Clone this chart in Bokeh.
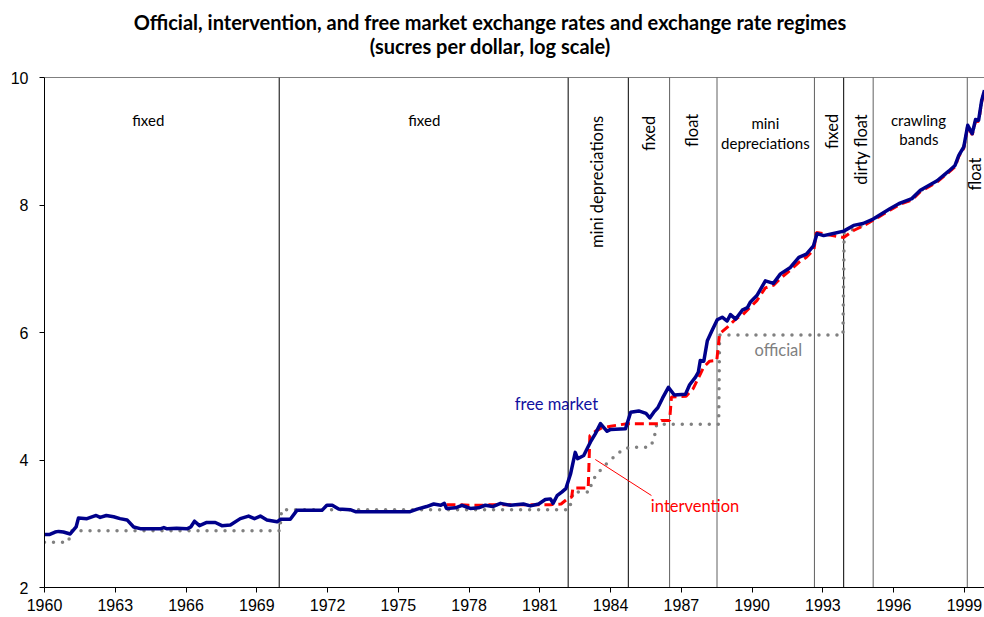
from bokeh.plotting import figure
from bokeh.models import Range1d, FixedTicker, Label, Span, Div
from bokeh.layouts import column
from bokeh.embed import file_html
from bokeh.resources import INLINE

# ---------------- data ----------------
fm_year = [1960.00, 1960.20, 1960.45, 1960.60, 1960.80, 1961.09, 1961.34, 1961.44, 1961.80,
           1962.19, 1962.36, 1962.62, 1962.93, 1963.20, 1963.50, 1963.78, 1964.10, 1964.90,
           1965.06, 1965.20, 1965.60, 1966.04, 1966.20, 1966.36, 1966.57, 1966.88, 1967.24,
           1967.52, 1967.88, 1968.30, 1968.65, 1968.90, 1969.15, 1969.43, 1969.86, 1970.00,
           1970.42, 1970.70, 1971.76, 1971.97, 1972.20, 1972.47, 1972.96, 1973.18, 1975.50,
           1975.80, 1976.20, 1976.50, 1976.80, 1976.95, 1977.04, 1977.42, 1977.70, 1978.05,
           1978.40, 1978.69, 1979.00, 1979.33, 1979.75, 1980.30, 1980.60, 1980.95, 1981.23,
           1981.45, 1981.56, 1981.73, 1981.94, 1982.10, 1982.30, 1982.50, 1982.60, 1982.86,
           1983.14, 1983.35, 1983.57, 1983.85, 1984.00, 1984.63, 1984.85, 1985.19, 1985.50,
           1985.66, 1985.83, 1986.00, 1986.20, 1986.45, 1986.70, 1987.17, 1987.35, 1987.60,
           1987.72, 1987.80, 1987.95, 1988.10, 1988.30, 1988.52, 1988.73, 1988.94, 1989.08,
           1989.30, 1989.58, 1989.80, 1989.93, 1990.20, 1990.56, 1990.90, 1991.20, 1991.62,
           1991.98, 1992.30, 1992.60, 1992.75, 1993.03, 1993.40, 1993.88, 1994.30, 1994.70,
           1995.13, 1995.84, 1996.27, 1996.77, 1997.13, 1997.84, 1998.33, 1998.60, 1998.76,
           1998.97, 1999.14, 1999.33, 1999.47, 1999.60, 1999.73, 1999.85]
fm_val = [2.83, 2.83, 2.87, 2.88, 2.87, 2.84, 2.95, 3.09, 3.08,
          3.13, 3.10, 3.13, 3.11, 3.08, 3.06, 2.95, 2.92, 2.92,
          2.94, 2.92, 2.93, 2.92, 2.95, 3.04, 2.97, 3.02, 3.02,
          2.97, 2.98, 3.08, 3.12, 3.08, 3.12, 3.06, 3.03, 3.07,
          3.07, 3.21, 3.21, 3.29, 3.29, 3.23, 3.22, 3.19, 3.19,
          3.23, 3.27, 3.31, 3.29, 3.32, 3.24, 3.25, 3.29, 3.24,
          3.25, 3.29, 3.27, 3.32, 3.29, 3.31, 3.28, 3.31, 3.38,
          3.39, 3.32, 3.44, 3.50, 3.55, 3.78, 4.12, 4.02, 4.07,
          4.28, 4.41, 4.57, 4.45, 4.48, 4.49, 4.75, 4.77, 4.73,
          4.66, 4.75, 4.82, 4.97, 5.14, 5.02, 5.03, 5.18, 5.30,
          5.38, 5.56, 5.55, 5.87, 6.03, 6.20, 6.24, 6.18, 6.28,
          6.21, 6.35, 6.39, 6.48, 6.58, 6.81, 6.77, 6.92, 7.02,
          7.18, 7.23, 7.36, 7.55, 7.52, 7.55, 7.59, 7.68, 7.71,
          7.78, 7.94, 8.03, 8.10, 8.23, 8.38, 8.53, 8.62, 8.78,
          8.91, 9.25, 9.12, 9.34, 9.33, 9.64, 9.80]

iv_year = [1977.04, 1977.50, 1978.00, 1978.50, 1979.00, 1979.50, 1980.00, 1980.50, 1981.00,
           1981.50, 1981.90, 1982.20, 1982.35, 1982.40, 1983.05, 1983.12, 1983.35, 1983.60,
           1984.00, 1984.70, 1986.05, 1986.15, 1986.50, 1986.58, 1987.20, 1987.50, 1987.95,
           1988.20, 1988.50, 1988.62, 1988.94, 1989.30, 1989.60, 1990.20, 1990.56, 1990.90,
           1991.20, 1991.62, 1991.98, 1992.30, 1992.62, 1992.72, 1993.00, 1993.40, 1993.88,
           1994.30, 1994.70, 1995.13, 1995.84, 1996.27, 1996.77, 1997.13, 1997.84, 1998.33,
           1998.60, 1998.76, 1998.97, 1999.14, 1999.33, 1999.47, 1999.60, 1999.73, 1999.85]
iv_val = [3.30, 3.30, 3.29, 3.29, 3.30, 3.30, 3.30, 3.30, 3.30,
          3.30, 3.31, 3.40, 3.42, 3.56, 3.56, 4.38, 4.45, 4.50,
          4.53, 4.57, 4.57, 4.62, 4.62, 4.99, 5.00, 5.12, 5.46,
          5.55, 5.56, 5.98, 6.08, 6.21, 6.28, 6.50, 6.70, 6.74,
          6.85, 6.98, 7.10, 7.18, 7.30, 7.57, 7.55, 7.52, 7.49,
          7.60, 7.67, 7.76, 7.92, 8.01, 8.08, 8.21, 8.36, 8.51,
          8.60, 8.76, 8.89, 9.23, 9.10, 9.32, 9.31, 9.62, 9.78]

of_year = [1960.00, 1961.00, 1961.15, 1969.98, 1970.05, 1982.25, 1982.42, 1983.12, 1983.20,
           1983.43, 1983.68, 1983.96, 1984.25, 1984.50, 1984.80, 1985.65, 1985.83, 1985.95,
           1988.58, 1988.62, 1993.85, 1993.90, 1994.30, 1994.70, 1995.13, 1995.84, 1996.27,
           1996.77, 1997.13, 1997.84, 1998.33, 1998.60, 1998.76, 1998.97, 1999.14, 1999.33,
           1999.47, 1999.60, 1999.73, 1999.85]
of_val = [2.71, 2.71, 2.89, 2.89, 3.22, 3.22, 3.50, 3.50, 3.66,
          3.78, 3.89, 3.99, 4.08, 4.16, 4.20, 4.20, 4.31, 4.56,
          4.56, 5.96, 5.96, 7.56, 7.62, 7.68, 7.77, 7.93, 8.02,
          8.09, 8.22, 8.37, 8.52, 8.61, 8.77, 8.90, 9.24, 9.11,
          9.33, 9.32, 9.63, 9.79]

regime_breaks = [1969.95, 1982.20, 1984.75, 1986.50, 1988.51, 1992.64, 1993.88, 1995.13, 1999.12]
break_colors = ["#000000", "#000000", "#000000", "#606060", "#606060", "#606060", "#000000", "#606060", "#606060"]

# horizontal regime labels: text, x (year), y (value)
h_labels = ["fixed", "fixed", "mini", "depreciations", "crawling", "bands"]
h_x = [1964.40, 1976.10, 1990.56, 1990.56, 1997.05, 1997.07]
h_y = [9.34, 9.34, 9.28, 8.98, 9.34, 9.03]
# vertical (rotated) regime labels: text, x (year), top (value)
v_labels = ["mini depreciations", "fixed", "float", "fixed", "dirty float", "float"]
v_x = [1983.44, 1985.62, 1987.45, 1993.38, 1994.63, 1999.45]
v_top = [9.40, 9.40, 9.43, 9.43, 9.43, 8.745]

x_ticks = list(range(1960, 2000, 3))
y_ticks = [2, 4, 6, 8, 10]

title_1 = "Official, intervention, and free market exchange rates and exchange rate regimes"
title_2 = "(sucres per dollar, log scale)"

# ---------------- title block ----------------
title_div = Div(
    text=('<div style="font-family: Lato, sans-serif; font-weight: bold; font-size: 20px; '
          'line-height: 24px; text-align: center; width: 980px; padding-top: 10px; color: #000;">'
          + title_1 + '<br>' + title_2 + '</div>'),
    width=984, height=60, margin=0)

# ---------------- figure ----------------
p = figure(width=984, height=557, x_range=Range1d(1960, 1999.85), y_range=Range1d(2, 10),
           output_backend="svg", toolbar_location=None, title=None,
           min_border_left=44, min_border_right=0, min_border_top=17, min_border_bottom=30)
p.outline_line_color = None
p.xgrid.visible = False
p.ygrid.visible = False
p.background_fill_color = "white"
p.border_fill_color = "white"

for ax in (p.xaxis[0], p.yaxis[0]):
    ax.axis_line_color = "black"
    ax.axis_line_width = 1
    ax.major_tick_line_color = "black"
    ax.major_tick_out = 5
    ax.major_tick_in = 0
    ax.minor_tick_line_color = None
    ax.major_label_text_font = "Liberation Sans"
    ax.major_label_text_font_size = "16px"
    ax.major_label_text_color = "black"
p.xaxis.ticker = FixedTicker(ticks=x_ticks)
p.yaxis.ticker = FixedTicker(ticks=y_ticks)
p.xaxis.major_label_standoff = 6
p.yaxis.major_label_standoff = 11

p.add_layout(Span(location=10, dimension="width", line_color="black", line_width=1))

# regime boundaries
p.segment(x0=regime_breaks, x1=regime_breaks, y0=[2] * len(regime_breaks), y1=[10] * len(regime_breaks),
          line_color=break_colors, line_width=1)

# series
p.line(of_year, of_val, line_color="#808080", line_width=3.5, line_dash="0 9", line_cap="round")
p.line(iv_year, iv_val, line_color="#ff0000", line_width=3, line_dash="9 5")
p.line(fm_year, fm_val, line_color="#00008b", line_width=3.5, line_join="round")

# leader line for "intervention"
p.segment(x0=[1983.35], y0=[4.008], x1=[1985.73], y1=[3.443], line_color="#ff0000", line_width=1)

FONT = "Lato"
for t, x, y in zip(h_labels, h_x, h_y):
    p.add_layout(Label(x=x, y=y, text=t, text_font=FONT, text_font_size="15px", text_color="black",
                       text_align="center", text_baseline="middle"))
for t, x, y in zip(v_labels, v_x, v_top):
    p.add_layout(Label(x=x, y=y, text=t, text_font=FONT, text_font_size="16.5px", text_color="black",
                       text_align="right", text_baseline="middle", angle=1.5707963))

p.add_layout(Label(x=1981.70, y=4.871, text="free market", text_font=FONT, text_font_size="16.5px",
                   text_color="#1010a0", text_align="center", text_baseline="middle"))
p.add_layout(Label(x=1991.11, y=5.733, text="official", text_font=FONT, text_font_size="16.5px",
                   text_color="#7f7f7f", text_align="center", text_baseline="middle"))
p.add_layout(Label(x=1987.58, y=3.286, text="intervention", text_font=FONT, text_font_size="16.5px",
                   text_color="#ff0000", text_align="center", text_baseline="middle"))

layout = column(title_div, p, spacing=0)
open("out.html", "w").write(file_html(layout, INLINE))
